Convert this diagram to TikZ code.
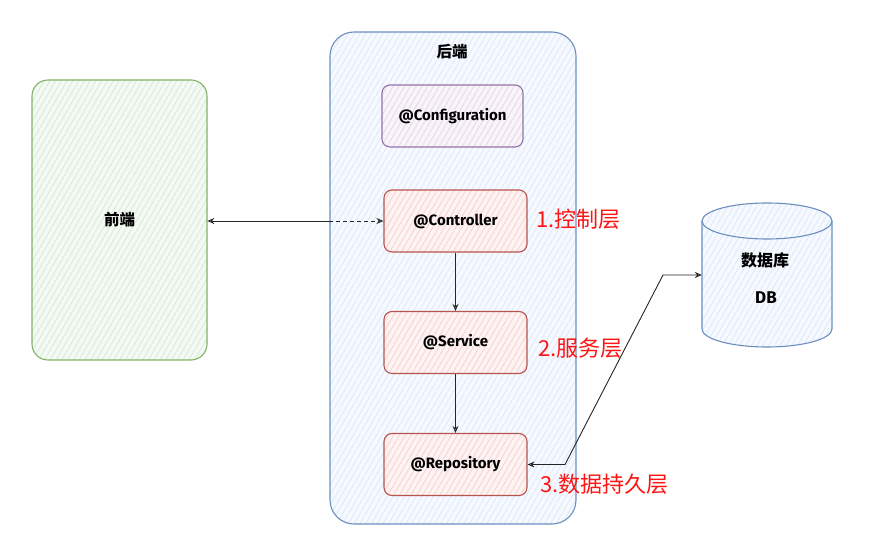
\documentclass[tikz,border=0pt]{standalone}
\usepackage{fontspec}
\setmainfont{Fira Sans}
\newfontfamily\cjk{Noto Sans CJK SC}
\usetikzlibrary{arrows.meta,patterns.meta}
\definecolor{gborder}{RGB}{130,179,102}
\definecolor{gfill}{RGB}{213,232,212}
\definecolor{bborder}{RGB}{108,142,191}
\definecolor{bfill}{RGB}{218,232,252}
\definecolor{pborder}{RGB}{150,115,166}
\definecolor{pfill}{RGB}{225,213,231}
\definecolor{rborder}{RGB}{184,84,80}
\definecolor{rfill}{RGB}{248,206,204}
\definecolor{lblred}{RGB}{255,20,20}
\tikzset{
  x=1pt, y=1pt,
  hatched/.style={preaction={fill=#1!25!white}, pattern={Lines[angle=60,distance=5pt,line width=0.7pt]}, pattern color=#1},
  box/.style={rectangle, rounded corners=#1, line width=1.1pt, inner sep=0pt},
  frontbox/.style={box=16pt, draw=gborder, hatched=gfill, minimum width=175pt, minimum height=280pt},
  backbox/.style={box=24pt, draw=bborder, hatched=bfill, minimum width=246pt, minimum height=492pt},
  cfgbox/.style={box=8pt, draw=pborder, hatched=pfill, minimum width=141pt, minimum height=62pt},
  layerbox/.style={box=8pt, draw=rborder, hatched=rfill, minimum width=143pt, minimum height=62pt},
  boxtext/.style={font=\fontsize{15}{17}\selectfont\bfseries},
  cjktext/.style={font=\cjk\fontsize{15.5}{18}\selectfont\bfseries},
  redlbl/.style={anchor=west, text=lblred, font=\cjk\fontsize{22}{26}\selectfont, inner sep=0pt},
  conn/.style={line width=0.9pt, draw=black!85},
}
\begin{document}
\begin{tikzpicture}
\useasboundingbox (0,0) rectangle (872,537);
\fill[white] (0,0) rectangle (872,537);

\node[frontbox] (front) at (119.5,317) {};
\node[cjktext] (frontlbl) at (119.5,317) {前端};

\node[backbox] (back) at (453,259) {};
\node[cjktext] (backlbl) at (452,485) {后端};

\node[cfgbox, boxtext] (cfg) at (452.5,421) {@Configuration};
\node[layerbox, boxtext] (ctrl) at (455.5,316) {@Controller};
\node[layerbox, boxtext] (svc) at (455.5,194.5) {@Service};
\node[layerbox, boxtext] (repo) at (455.5,72.5) {@Repository};

\node[redlbl] (l1) at (536,318) {1.控制层};
\node[redlbl] (l2) at (538,189) {2.服务层};
\node[redlbl] (l3) at (540,53) {3.数据持久层};

% database cylinder
\draw[line width=1.1pt, draw=bborder, hatched=bfill]
  (702,316) -- (702,208) arc[start angle=180, end angle=360, x radius=65, y radius=18]
  -- (832,316) arc[start angle=0, end angle=180, x radius=65, y radius=18] -- cycle;
\draw[line width=1.1pt, draw=bborder]
  (702,316) arc[start angle=180, end angle=360, x radius=65, y radius=18];
\node[minimum width=130pt, minimum height=144pt, inner sep=0pt] (db) at (767,262) {};
\node[cjktext, font=\cjk\fontsize{16}{18}\selectfont\bfseries] (dblbl) at (765,277) {数据库};
\node[font=\fontsize{17}{19}\selectfont\bfseries] (dbtxt) at (766,239) {DB};

% connectors
\coordinate (bw) at (back.west |- ctrl.west);
\draw[conn, {Stealth[open, length=7pt, width=6pt]}-] (front.east |- ctrl.west) -- (bw);
\draw[conn, dash pattern=on 4pt off 3pt, -{Stealth[open, length=7pt, width=6pt]}] (bw) -- (ctrl.west);
\draw[conn, -{Stealth[open, length=7pt, width=6pt]}] (ctrl.south) -- (svc.north);
\draw[conn, -{Stealth[open, length=7pt, width=6pt]}] (svc.south) -- (repo.north);
\coordinate (k1) at (565,72.5);
\coordinate (k2) at (663,262);
\draw[conn, {Stealth[open, length=7pt, width=6pt]}-{Stealth[open, length=7pt, width=6pt]}] (repo.east) -- (k1) -- (k2) -- (db.west);
\end{tikzpicture}
\end{document}
